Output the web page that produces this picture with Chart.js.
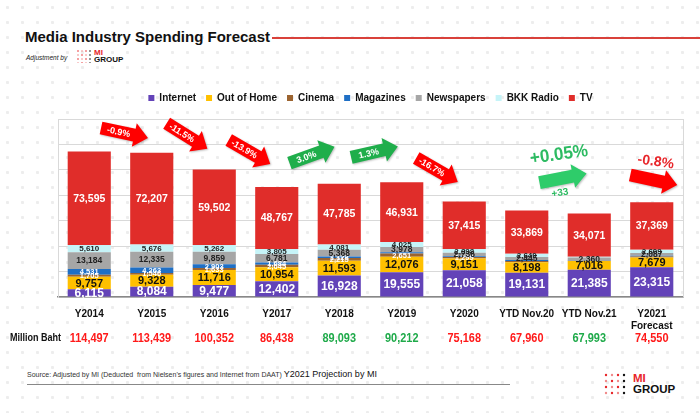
<!DOCTYPE html>
<html>
<head>
<meta charset="utf-8">
<script src="https://cdn.jsdelivr.net/npm/chart.js"></script>
<style>
  html, body { margin: 0; padding: 0; }
  body {
    width: 700px; height: 413px; position: relative; overflow: hidden;
    font-family: "Liberation Sans", Arial, sans-serif;
    background-color: #fff;
    background-image: radial-gradient(circle, #ededed 1.3px, transparent 1.8px);
    background-size: 15px 15px;
  }
  #wrap { position: absolute; left: 0; top: 0; width: 700px; height: 413px; }
  .title { position: absolute; left: 25px; top: 28px; font-size: 15px; font-weight: bold; color: #111; }
  .title-line { position: absolute; left: 272px; top: 37px; width: 428px; height: 2px; background: #d9413a; }
  .adj { position: absolute; left: 26px; top: 54px; font-size: 6.5px; font-style: italic; color: #222; }
  .logo { position: absolute; }
  .logo .mi { color: #e8262b; font-weight: bold; }
  .logo .grp { color: #111; font-weight: bold; }
  .source { position: absolute; left: 27px; top: 369px; font-size: 7px; color: #333; white-space: nowrap; }
  .source b { font-weight: normal; font-size: 9px; color: #111; }
  .src-line { position: absolute; left: 27px; top: 384px; width: 483px; height: 1px; background: #888; }
</style>
</head>
<body>
<div class="title">Media Industry Spending Forecast</div>
<div class="title-line"></div>
<div class="adj">Adjustment by</div>
<canvas id="logoTop" class="logo" width="18" height="14" style="left:76px;top:49px;"></canvas>
<div class="logo" style="left:94px;top:49px;font-size:8px;line-height:7px;"><div class="mi">MI</div><div class="grp">GROUP</div></div>
<div class="source">Source: Adjusted by MI (Deducted&nbsp; from Nielsen's figures and Internet from DAAT) <b>Y2021 Projection by MI</b></div>
<div class="src-line"></div>
<canvas id="logoBot" class="logo" width="24" height="22" style="left:604px;top:373px;"></canvas>
<div class="logo" style="left:633px;top:373px;font-size:11.5px;line-height:11px;"><div class="mi">MI</div><div class="grp">GROUP</div></div>
<div id="wrap"><canvas id="chart"></canvas></div>

<script>
const categories = ["Y2014", "Y2015", "Y2016", "Y2017", "Y2018", "Y2019", "Y2020", "YTD Nov.20", "YTD Nov.21", ["Y2021", "Forecast"]];

const internet   = [6115, 8084, 9477, 12402, 16928, 19555, 21058, 19131, 21385, 23315];
const outOfHome  = [9757, 9328, 11716, 10954, 11593, 12076, 9151, 8198, 7016, 7679];
const cinema     = [1705, 1546, 1633, 2045, 2215, 2651, 1299, 900, 200, 900];
const magazines  = [4531, 4263, 2903, 1684, 1123, 996, 611, 777, 101, 591];
const newspapers = [13184, 12335, 9859, 6781, 5368, 3978, 2736, 2445, 2360, 2087];
const bkkRadio   = [5610, 5676, 5262, 3805, 4081, 4025, 2898, 2640, 500, 2609];
const tv         = [73595, 72207, 59502, 48767, 47785, 46931, 37415, 33869, 34071, 37369];

const totals      = ["114,497", "113,439", "100,352", "86,438", "89,093", "90,212", "75,168", "67,960", "67,993", "74,550"];
const totalColors = ["#ff1a1a", "#ff1a1a", "#ff1a1a", "#ff1a1a", "#1faa4a", "#1faa4a", "#ff1a1a", "#ff1a1a", "#1faa4a", "#ff1a1a"];

// year-on-year change arrows, drawn between category i and i+1
const changeLabels = ["-0.9%", "-11.5%", "-13.9%", "3.0%", "1.3%", "-16.7%"];
const changeUp     = [false, false, false, true, true, false];

const RED = "#ff0000";
const GREEN = "#1fae4b";
const FONT = "'Liberation Sans', Arial";

function fmt(v) { return v.toLocaleString("en-US"); }

function drawDots(id, cols, rows, gap, r) {
  const c = document.getElementById(id).getContext("2d");
  for (let i = 0; i < cols; i++) {
    for (let j = 0; j < rows; j++) {
      c.fillStyle = i === cols - 1 ? "#111" : (i + j) % 2 ? "#f08a8a" : "#e8262b";
      c.beginPath();
      c.arc(2 + i * gap, 2 + j * gap, r, 0, Math.PI * 2);
      c.fill();
    }
  }
}
drawDots("logoTop", 4, 4, 4, 0.8);
drawDots("logoBot", 4, 4, 6, 1.2);

function arrow(ctx, cx, cy, deg, color, text) {
  const len = 48, half = 6.5, headLen = 14, headHalf = 12;
  ctx.save();
  ctx.translate(cx, cy);
  ctx.rotate(deg * Math.PI / 180);
  ctx.fillStyle = color;
  ctx.shadowColor = "rgba(0,0,0,0.25)";
  ctx.shadowBlur = 2;
  ctx.shadowOffsetX = 1;
  ctx.shadowOffsetY = 1;
  ctx.beginPath();
  ctx.moveTo(-len / 2, -half);
  ctx.lineTo(len / 2 - headLen, -half);
  ctx.lineTo(len / 2 - headLen, -headHalf);
  ctx.lineTo(len / 2, 0);
  ctx.lineTo(len / 2 - headLen, headHalf);
  ctx.lineTo(len / 2 - headLen, half);
  ctx.lineTo(-len / 2, half);
  ctx.closePath();
  ctx.fill();
  ctx.shadowColor = "transparent";
  if (text) {
    ctx.fillStyle = "#fff";
    ctx.font = "bold 9px " + FONT;
    ctx.textAlign = "center";
    ctx.textBaseline = "middle";
    ctx.fillText(text, -headLen / 2 + 1, 0.5);
  }
  ctx.restore();
}

function slantText(ctx, text, x, y, deg, font, color, sx) {
  ctx.save();
  ctx.fillStyle = color;
  ctx.font = font;
  ctx.textAlign = "center";
  ctx.textBaseline = "middle";
  ctx.translate(x, y);
  ctx.rotate(deg * Math.PI / 180);
  ctx.scale(sx || 1, 1);
  ctx.fillText(text, 0, 0);
  ctx.restore();
}

const labelStyle = [
  { color: "#fff", font: "bold 12px " + FONT, min: 1000 },
  { color: "#111", font: "bold 11px " + FONT, min: 1000 },
  { color: "#fff", font: "bold 7.5px " + FONT, min: 1000 },
  { color: "#fff", font: "bold 7.5px " + FONT, min: 1000 },
  { color: "#222", font: "bold 8.5px " + FONT, min: 1000 },
  { color: "#222", font: "bold 8px " + FONT, min: 1000 },
  { color: "#fff", font: "bold 10.5px " + FONT, min: 1000 }
];

// extra space under the legend
const legendGap = {
  id: "legendGap",
  beforeInit(chart) {
    const fit = chart.legend.fit;
    chart.legend.fit = function () {
      fit.bind(chart.legend)();
      this.height += 6;
    };
  }
};

const extras = {
  id: "extras",
  afterDatasetsDraw(chart) {
    const { ctx, chartArea, scales } = chart;
    const x = scales.x;

    // right frame edge
    ctx.save();
    ctx.strokeStyle = "#d9d9d9";
    ctx.lineWidth = 1;
    ctx.beginPath();
    ctx.moveTo(chartArea.right + 0.5, chartArea.top);
    ctx.lineTo(chartArea.right + 0.5, chartArea.bottom);
    ctx.stroke();
    ctx.restore();

    // segment labels
    chart.data.datasets.forEach((ds, di) => {
      const meta = chart.getDatasetMeta(di);
      const st = labelStyle[di];
      meta.data.forEach((bar, i) => {
        const v = ds.data[i];
        if (v < st.min) return;
        ctx.save();
        ctx.fillStyle = st.color;
        ctx.font = st.font;
        ctx.textAlign = "center";
        ctx.textBaseline = "middle";
        ctx.fillText(fmt(v), bar.x, (bar.y + bar.base) / 2 + 0.5);
        ctx.restore();
      });
    });

    // totals row
    totals.forEach((t, i) => {
      slantText(ctx, t, x.getPixelForValue(i), 338, 0, "bold 13px " + FONT, totalColors[i], 0.84);
    });
    ctx.save();
    ctx.fillStyle = "#111";
    ctx.font = "bold 11px " + FONT;
    ctx.textAlign = "left";
    ctx.textBaseline = "middle";
    ctx.translate(10, 338);
    ctx.scale(0.82, 1);
    ctx.fillText("Million Baht", 0, 0);
    ctx.restore();

    // change arrows between consecutive years
    const arrowY = [133, 136, 152, 155, 152, 170];
    const arrowA = [12, 32, 30, -20, -13, 30];
    changeLabels.forEach((t, i) => {
      const cx = (x.getPixelForValue(i) + x.getPixelForValue(i + 1)) / 2 + 4;
      arrow(ctx, cx, arrowY[i], arrowA[i], changeUp[i] ? GREEN : RED, t);
    });

    // YTD comparison
    const cYtd = (x.getPixelForValue(7) + x.getPixelForValue(8)) / 2 + 5;
    arrow(ctx, cYtd, 178, -11, "#2ecc6a", "");
    slantText(ctx, "+0.05%", cYtd - 4, 155, -8, "bold 18px " + FONT, "#2dbb62", 0.95);
    slantText(ctx, "+33", cYtd - 3, 193, -8, "bold 10px " + FONT, "#2dbb62", 1);

    // forecast arrow
    const cF = x.getPixelForValue(9) + 2;
    arrow(ctx, cF, 180, 12, RED, "");
    slantText(ctx, "-0.8%", cF + 2, 162, 8, "bold 14px " + FONT, "#e8262b", 1);
  }
};

function ds(label, data, color) {
  return {
    label, data,
    backgroundColor: color,
    borderWidth: 0,
    barPercentage: 0.69,
    categoryPercentage: 1.0
  };
}

new Chart(document.getElementById("chart"), {
  type: "bar",
  data: {
    labels: categories,
    datasets: [
      ds("Internet", internet, "#6343b8"),
      ds("Out of Home", outOfHome, "#ffc000"),
      ds("Cinema", cinema, "#9c6430"),
      ds("Magazines", magazines, "#1f6fc5"),
      ds("Newspapers", newspapers, "#a6a6a6"),
      ds("BKK Radio", bkkRadio, "#c6f4f8"),
      ds("TV", tv, "#e02d2a")
    ]
  },
  options: {
    responsive: true,
    maintainAspectRatio: false,
    animation: false,
    layout: { padding: { left: 58, right: 17, top: 83, bottom: 78 } },
    plugins: {
      legend: {
        display: true,
        position: "top",
        labels: {
          boxWidth: 6,
          boxHeight: 6,
          padding: 10,
          color: "#111",
          font: { family: FONT, size: 10, weight: "bold" }
        }
      },
      tooltip: { enabled: false }
    },
    scales: {
      x: {
        stacked: true,
        grid: { display: false },
        border: { display: true, color: "#888", width: 1.5 },
        ticks: {
          color: "#111",
          padding: 3,
          maxRotation: 0,
          autoSkip: false,
          font: { family: FONT, size: 10, weight: "bold" }
        }
      },
      y: {
        stacked: true,
        min: 0,
        max: 140000,
        ticks: { display: false, stepSize: 20000 },
        grid: { color: "#d9d9d9", drawTicks: false },
        border: { display: true, color: "#d9d9d9" }
      }
    }
  },
  plugins: [extras, legendGap]
});
</script>
</body>
</html>
